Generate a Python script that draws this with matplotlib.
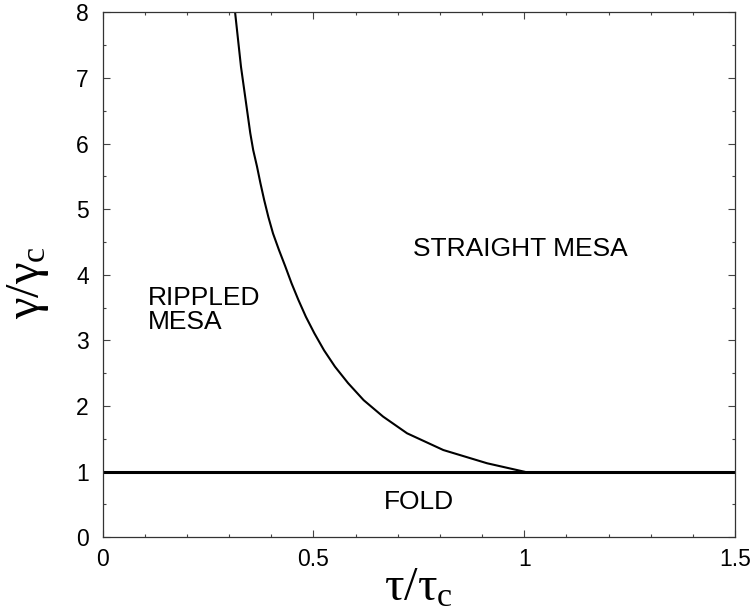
import matplotlib.pyplot as plt
from matplotlib.ticker import MultipleLocator

plt.rcParams['font.family'] = ['Liberation Sans', 'DejaVu Sans']
plt.rcParams['mathtext.fontset'] = 'custom'
plt.rcParams['mathtext.rm'] = 'Liberation Serif'

# boundary between rippled and straight mesa (tau/tau_c, gamma/gamma_c)
tau = [0.314, 0.328, 0.350, 0.357, 0.366, 0.374, 0.383, 0.393, 0.404,
       0.418, 0.433, 0.448, 0.464, 0.482, 0.502, 0.525, 0.551, 0.582,
       0.619, 0.665, 0.722, 0.808, 0.912, 1.0]
gamma = [8.0, 7.17, 6.16, 5.90, 5.65, 5.40, 5.14, 4.88, 4.63,
         4.38, 4.13, 3.87, 3.62, 3.36, 3.11, 2.85, 2.60, 2.35,
         2.09, 1.84, 1.585, 1.33, 1.128, 1.0]

# fold threshold
fold_tau = [0.0, 1.5]
fold_gamma = [1.0, 1.0]

fig = plt.figure(figsize=(7.52, 6.11), dpi=100)
ax = fig.add_axes([0.1366, 0.1206, 0.9774 - 0.1366, 0.9799 - 0.1206])

ax.plot(tau, gamma, color='black', lw=1.5, solid_joinstyle='round')
ax.plot(fold_tau, fold_gamma, color='black', lw=2.2)

ax.set_xlim(0, 1.5)
ax.set_ylim(0, 8)
ax.xaxis.set_minor_locator(MultipleLocator(0.1))
ax.yaxis.set_major_locator(MultipleLocator(1))
ax.yaxis.set_minor_locator(MultipleLocator(0.5))
ax.set_xticks([0, 0.5, 1, 1.5])
ax.set_xticklabels(['0', '0.5', '1', '1.5'])

ax.tick_params(which='both', direction='in', top=True, right=True,
               labelsize=16.5, color='#444444')
ax.tick_params(which='major', length=5, width=0.8)
ax.tick_params(which='minor', length=2.5, width=0.8)
ax.tick_params(axis='x', pad=8)
ax.tick_params(axis='y', pad=10)
for s in ax.spines.values():
    s.set_linewidth(0.9)
    s.set_color('#333333')

ax.set_xlabel(r'$\mathrm{τ/τ_c}$', fontsize=35, labelpad=-4)
ax.set_ylabel(r'$\mathrm{γ/γ_c}$', fontsize=35)
ax.yaxis.set_label_coords(-0.082, 0.486)

ax.text(0.99, 4.39, 'STRAIGHT MESA', fontsize=19, ha='center', va='center')
ax.text(0.108, 3.47, 'RIPPLED\nMESA', fontsize=19, ha='left', va='center',
        linespacing=1.0)
ax.text(0.75, 0.54, 'FOLD', fontsize=19, ha='center', va='center')

fig.savefig('out.png', dpi=100)
